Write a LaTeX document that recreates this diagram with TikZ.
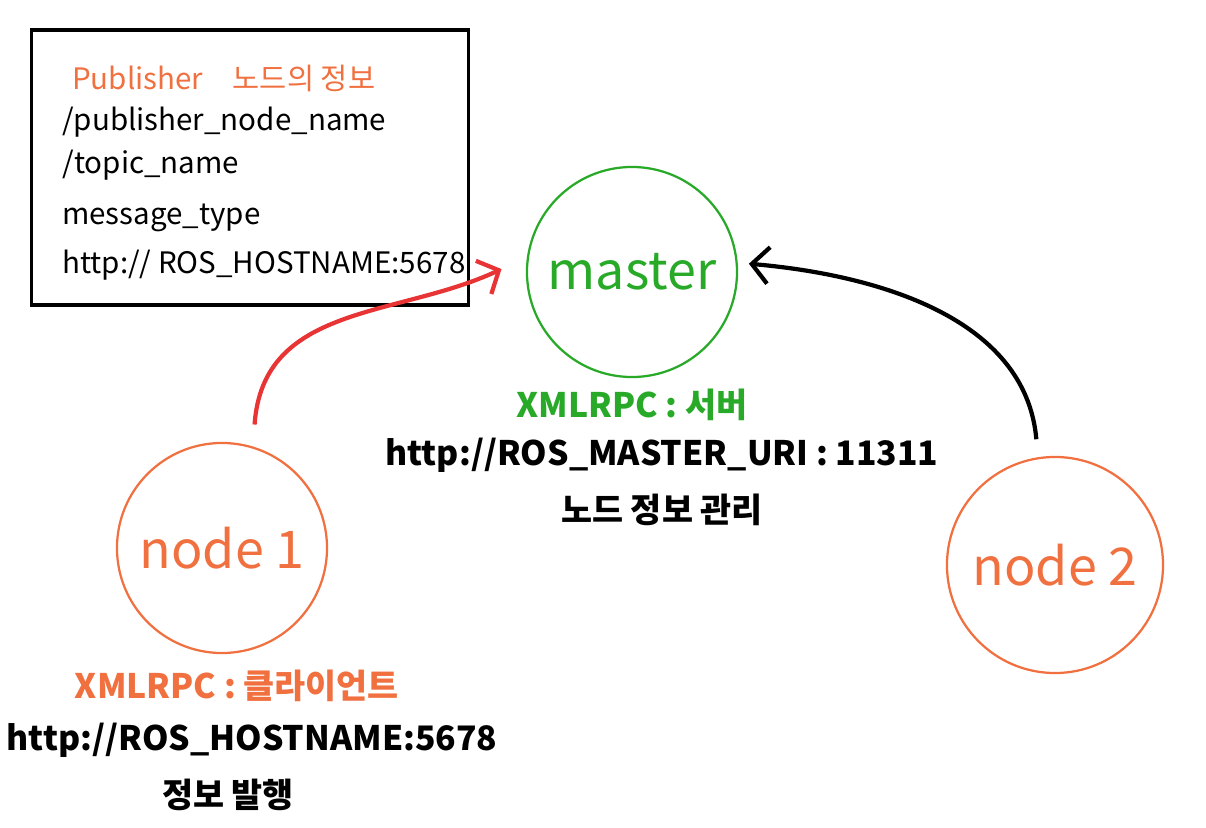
\documentclass[tikz,border=0pt]{standalone}
\usepackage{fontspec}
\setmainfont{Noto Sans CJK KR}
\usetikzlibrary{arrows.meta,positioning}

\definecolor{nodeorange}{RGB}{240,112,64}
\definecolor{mastergreen}{RGB}{40,170,40}
\definecolor{pubred}{RGB}{232,52,52}

\tikzset{
  circ/.style={circle, draw, line width=1.6pt, inner sep=0pt},
  infobox/.style={draw, line width=2.2pt, minimum width=10.9cm, minimum height=6.875cm},
  info/.style={font=\fontsize{21}{25}\selectfont, inner sep=0pt},
  lbl/.style={font=\fontsize{24}{28}\selectfont\bfseries, inner sep=0pt},
  bigtxt/.style={font=\fontsize{37}{42}\selectfont},
  link/.style={line width=3pt, -{Straight Barb[length=12pt,width=26pt,line width=3pt]}}
}

\begin{document}
\begin{tikzpicture}[x=0.025cm, y=-0.025cm]
\useasboundingbox (0,0) rectangle (1206,828);

% publisher info
\node[infobox] (pubbox) at (250,167.5) {};
\node[info, anchor=west, text=nodeorange] (pubtitle) at (72,78) {Publisher\quad 노드의 정보};
\node[info, anchor=west] (pubname) at (62,122) {/publisher\_node\_name};
\node[info, anchor=west] (pubtopic) at (62,165) {/topic\_name};
\node[info, anchor=west] (pubtype) at (62,218) {message\_type};
\node[info, anchor=west] (puburi) at (62,265) {http:// ROS\_HOSTNAME:5678};

% nodes
\node[circ, draw=mastergreen, minimum size=5.25cm, text=mastergreen, bigtxt] (master) at (632,272) {master};
\node[circ, draw=nodeorange, minimum size=5.25cm, text=nodeorange, bigtxt] (n1) at (222,548) {node 1};
\node[circ, draw=nodeorange, minimum size=5.4cm, text=nodeorange, bigtxt] (n2) at (1055,565) {node 2};

% master labels
\node[lbl, text=mastergreen] (mrole) at (632,405) {XMLRPC : 서버};
\node[lbl] (muri) at (662,455) {http://ROS\_MASTER\_URI : 11311};
\node[lbl] (mjob) at (662,510) {노드 정보 관리};

% node 1 labels
\node[lbl, text=nodeorange] (n1role) at (237,686) {XMLRPC : 클라이언트};
\node[lbl] (n1uri) at (252,740) {http://ROS\_HOSTNAME:5678};
\node[lbl] (n1job) at (228,795) {정보 발행};

% connectors
\draw[link, draw=pubred, shorten <=0.55cm, shorten >=0.7cm]
  (n1.73) to[out=86, in=205, looseness=1.1] (master.172);
\draw[link, shorten <=0.45cm, shorten >=0.28cm]
  (n2.99) to[out=95, in=-5] (master.5);
\end{tikzpicture}
\end{document}
